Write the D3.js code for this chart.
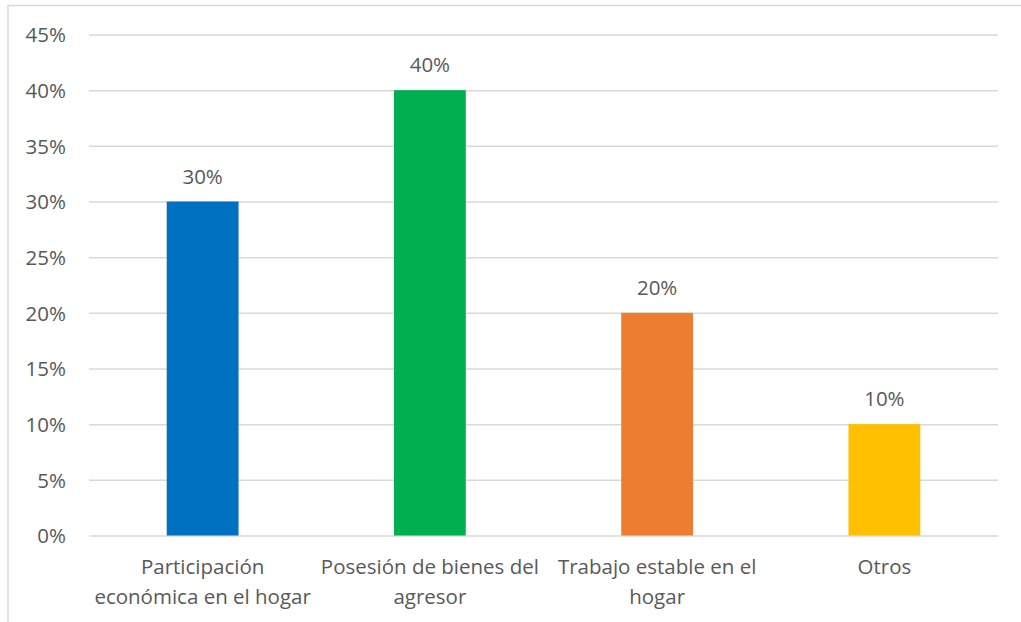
<!DOCTYPE html>
<html><head><meta charset="utf-8">
<script src="https://cdn.jsdelivr.net/npm/d3@7"></script>
<style>
body{margin:0;background:#fff;}
text{font-family:"Open Sans",sans-serif;fill:#595959;}
</style></head>
<body>
<svg id="c" width="1021" height="622"></svg>
<script>
const categories = ["Participación económica en el hogar","Posesión de bienes del agresor","Trabajo estable en el hogar","Otros"];
const values = [0.30, 0.40, 0.20, 0.10];
const colors = ["#0070C0","#00B050","#ED7D31","#FFC000"];
const yTicks = [0,0.05,0.10,0.15,0.20,0.25,0.30,0.35,0.40,0.45];

(function(){
const FS=20.5;
const svg = d3.select("#c");
svg.append("rect").attr("x",8).attr("y",5.5).attr("width",1100).attr("height",700)
  .attr("fill","none").attr("stroke","#D9D9D9").attr("stroke-width",1.5);

const pL=89,pR=998,pT=34.5,pB=535.5;
const x=d3.scaleBand().domain(categories).range([pL,pR]).paddingInner(0.684).paddingOuter(0.342);
const y=d3.scaleLinear().domain([0,0.45]).range([pB,pT]);
const fmt=d3.format(".0%");

const g=svg.append("g");
const yAxis=d3.axisLeft(y).tickValues(yTicks).tickFormat(fmt).tickSize(-(pR-pL)).tickPadding(23);
const ya=g.append("g").attr("transform",`translate(${pL},0)`).call(yAxis);
ya.select(".domain").remove();
ya.selectAll(".tick line").attr("stroke","#D9D9D9").attr("stroke-width",1.5);
ya.selectAll(".tick text").attr("font-size",FS).attr("fill","#595959").attr("dy","0.36em").attr("font-family","Open Sans");

g.selectAll("rect.bar").data(values).join("rect").attr("class","bar")
  .attr("x",(d,i)=>x(categories[i])).attr("width",x.bandwidth())
  .attr("y",d=>y(d)).attr("height",d=>pB-y(d)).attr("fill",(d,i)=>colors[i]);

g.selectAll("text.lbl").data(values).join("text").attr("class","lbl")
  .attr("x",(d,i)=>x(categories[i])+x.bandwidth()/2).attr("y",d=>y(d)-18)
  .attr("text-anchor","middle").attr("font-size",FS).text(d=>fmt(d));

const step=x.step();
categories.forEach((c,i)=>{
  const cx=x(c)+x.bandwidth()/2;
  const t=g.append("text").attr("x",cx).attr("y",574).attr("text-anchor","middle").attr("font-size",FS);
  const words=c.split(" ");
  let line=[];
  let ts=t.append("tspan").attr("x",cx).attr("dy",0);
  words.forEach(w=>{
    line.push(w);ts.text(line.join(" "));
    if(ts.node().getComputedTextLength()>step-4 && line.length>1){
      line.pop();ts.text(line.join(" "));line=[w];
      ts=t.append("tspan").attr("x",cx).attr("dy",30).text(w);
    }
  });
});
})();
</script>
</body></html>
